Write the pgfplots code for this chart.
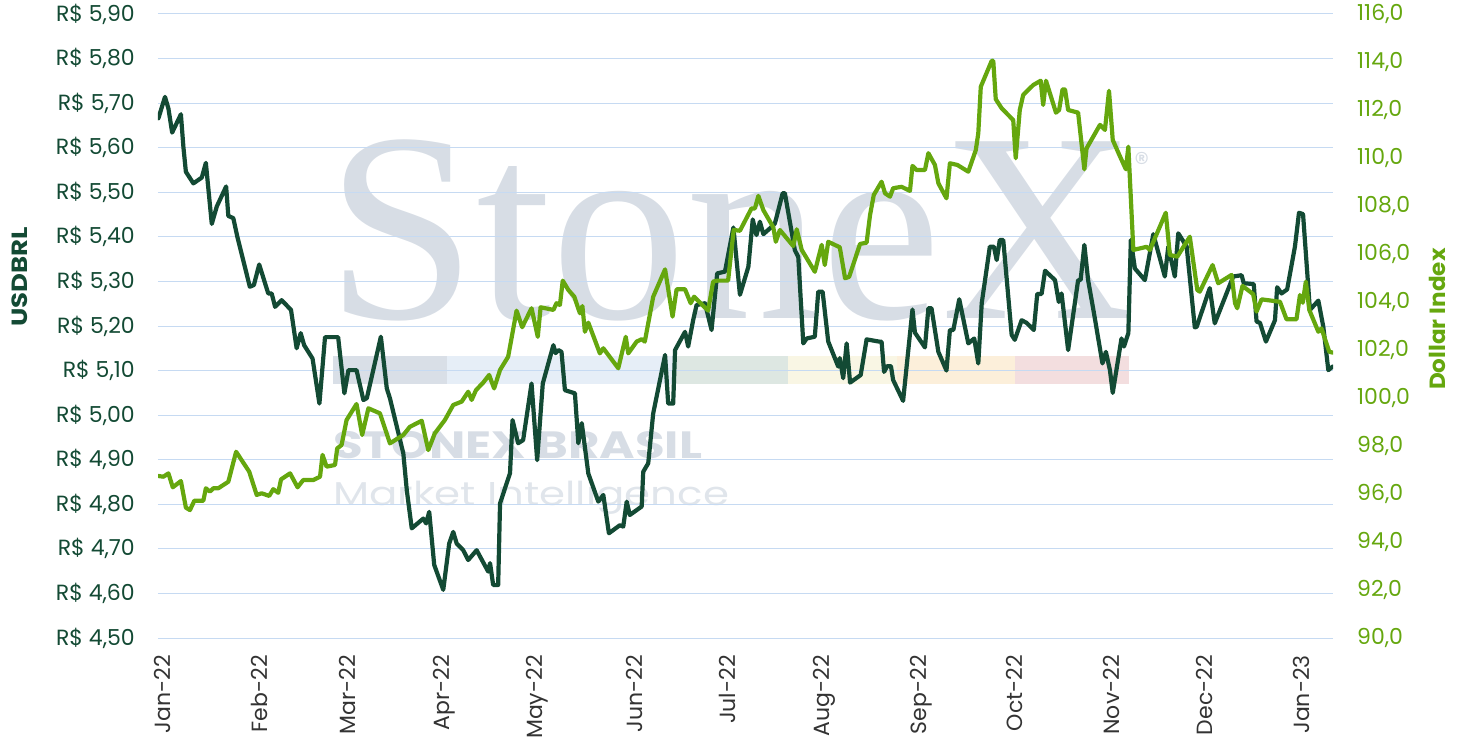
\documentclass[border=0pt]{standalone}
\usepackage{pgfplots}
\pgfplotsset{compat=1.18}
\usepackage{pgfplotstable}
\usepackage{fontspec}
\setmainfont{Poppins}
\newfontfamily\wmserif{Liberation Serif}
\definecolor{dkgreen}{HTML}{134A34}
\definecolor{ltgreen}{HTML}{65A70E}
\definecolor{gridblue}{HTML}{C6DAF2}
\definecolor{wm}{HTML}{D7DDE5}
\definecolor{wmlight}{HTML}{E0E5EB}
\definecolor{bandA}{HTML}{D9DFE7}
\definecolor{bandB}{HTML}{E6EEF7}
\definecolor{bandC}{HTML}{DDE7E2}
\definecolor{bandD}{HTML}{F9F6E4}
\definecolor{bandE}{HTML}{FCEFDA}
\definecolor{bandF}{HTML}{F3DEDF}
\definecolor{ticktext}{HTML}{333333}

% days since 1 Jan 2022, USDBRL
\pgfplotstableread{
d v
-0.5 5.666
1.6 5.714
2.7 5.688
3.9 5.634
6.7 5.675
7.5 5.602
8.3 5.546
10.7 5.520
13.4 5.533
14.7 5.566
16.6 5.429
18.2 5.468
21.2 5.513
21.9 5.447
23.5 5.442
24.8 5.400
28.8 5.288
30.1 5.292
31.8 5.338
34.7 5.273
35.8 5.273
36.9 5.243
39.0 5.258
42.0 5.236
43.8 5.150
45.1 5.184
46.2 5.157
48.9 5.127
51.1 5.026
52.9 5.175
57.1 5.175
59.1 5.049
60.4 5.101
63.0 5.101
65.2 5.034
66.3 5.038
70.8 5.176
72.7 5.060
73.7 5.038
78.0 4.914
79.1 4.832
80.7 4.746
84.4 4.768
85.3 4.757
86.3 4.783
87.9 4.664
90.8 4.608
92.7 4.712
94.0 4.738
95.1 4.712
97.2 4.697
98.8 4.675
101.5 4.697
105.2 4.649
105.8 4.668
106.8 4.619
108.4 4.619
109.0 4.802
112.2 4.870
113.0 4.989
114.8 4.937
116.4 4.944
119.1 5.071
120.9 4.899
122.7 5.071
126.1 5.157
126.8 5.139
127.7 5.146
128.7 5.142
129.8 5.056
133.0 5.049
134.1 4.937
135.2 4.982
137.3 4.869
140.5 4.806
142.1 4.821
143.9 4.735
147.4 4.753
148.5 4.750
149.6 4.806
150.6 4.776
153.6 4.791
154.4 4.795
154.9 4.873
156.5 4.892
158.1 5.004
161.9 5.135
162.9 5.026
164.5 5.026
165.1 5.146
168.3 5.187
169.3 5.154
170.9 5.213
172.0 5.247
174.7 5.251
176.8 5.191
178.6 5.318
181.1 5.322
183.8 5.421
185.9 5.270
188.6 5.333
190.0 5.439
191.2 5.404
192.3 5.434
193.4 5.406
195.5 5.419
197.1 5.430
199.6 5.498
200.3 5.498
203.5 5.370
204.6 5.355
206.2 5.161
207.3 5.172
209.9 5.176
211.0 5.277
212.4 5.277
214.2 5.165
217.4 5.109
217.9 5.128
219.0 5.083
220.1 5.161
221.2 5.073
224.6 5.090
226.5 5.170
230.5 5.165
231.3 5.165
232.1 5.097
233.1 5.110
234.3 5.110
235.0 5.079
238.2 5.032
241.2 5.237
242.0 5.185
245.2 5.152
246.3 5.240
247.3 5.240
249.5 5.142
252.1 5.100
253.2 5.191
254.3 5.191
256.2 5.260
259.1 5.161
261.0 5.172
262.3 5.116
263.4 5.251
266.0 5.378
267.3 5.378
268.2 5.348
269.2 5.393
270.3 5.393
273.0 5.180
274.0 5.169
276.2 5.213
277.8 5.207
280.1 5.191
281.2 5.272
282.6 5.272
283.7 5.324
286.9 5.303
288.1 5.254
289.0 5.273
291.1 5.146
294.3 5.303
295.1 5.303
296.3 5.382
297.5 5.303
299.4 5.228
302.1 5.116
303.2 5.142
304.5 5.101
305.4 5.050
308.2 5.172
309.0 5.154
310.4 5.184
311.2 5.393
312.5 5.329
315.7 5.303
318.4 5.406
322.1 5.311
323.2 5.378
325.3 5.311
326.4 5.408
329.1 5.378
331.7 5.197
332.3 5.198
336.5 5.285
338.1 5.206
344.0 5.311
346.7 5.314
347.4 5.296
350.6 5.294
351.5 5.210
352.6 5.207
354.5 5.165
357.4 5.213
358.1 5.287
359.5 5.273
361.3 5.282
363.8 5.378
365.1 5.454
366.4 5.451
368.6 5.236
371.3 5.257
372.9 5.198
374.5 5.101
375.9 5.109
}\usdbrl

% days since 1 Jan 2022, Dollar Index
\pgfplotstableread{
d w
-0.5 96.75
1.1 96.72
2.7 96.86
4.1 96.28
6.7 96.54
8.3 95.43
9.6 95.33
11.0 95.72
13.9 95.72
14.7 96.24
16.0 96.10
17.1 96.24
18.7 96.24
21.9 96.51
24.4 97.76
28.6 96.93
31.0 95.96
32.6 96.03
35.0 95.92
36.3 96.20
37.9 96.05
38.8 96.61
41.7 96.86
44.1 96.28
45.9 96.58
49.1 96.58
51.3 96.72
52.1 97.63
53.4 97.14
56.1 97.21
56.8 97.90
58.2 98.04
59.8 99.08
63.0 99.75
64.8 98.46
66.8 99.57
70.5 99.36
73.7 98.11
78.0 98.46
80.1 98.80
83.9 99.05
86.0 97.83
88.1 98.53
91.3 99.08
94.0 99.71
96.7 99.85
98.8 100.26
99.9 99.92
101.3 100.33
103.6 100.64
105.5 100.96
107.1 100.40
109.0 101.17
111.6 101.72
114.3 103.64
116.1 102.95
119.1 103.74
121.1 102.55
122.0 103.78
126.1 103.67
127.1 103.95
128.2 103.88
129.1 104.89
130.9 104.50
132.8 104.22
134.6 103.53
135.4 103.83
136.2 102.76
137.3 103.14
141.0 101.86
142.1 102.07
146.9 101.24
149.3 102.55
150.1 101.86
152.8 102.35
154.4 102.45
155.4 102.35
158.1 104.22
161.9 105.36
164.3 103.39
165.6 104.53
168.3 104.53
170.1 103.95
171.2 104.22
175.7 103.64
177.3 104.85
178.6 104.89
182.1 104.89
183.9 107.00
185.9 106.97
189.6 107.90
190.7 107.90
191.8 108.42
193.4 107.83
196.6 107.11
197.4 106.51
198.7 107.00
203.0 106.33
204.1 107.03
205.7 106.17
209.9 105.26
212.1 106.38
213.1 105.54
214.2 106.51
217.9 106.28
219.6 104.99
220.9 105.05
224.4 106.42
226.5 106.47
227.6 107.62
228.8 108.46
231.3 109.01
232.4 108.53
234.0 108.39
235.0 108.74
237.7 108.80
240.4 108.63
241.2 109.67
242.5 109.50
245.2 109.50
246.3 110.20
248.4 109.71
249.5 108.95
252.1 108.32
253.2 109.78
255.6 109.71
259.1 109.43
261.5 110.33
262.3 111.03
263.1 112.97
266.6 114.05
267.1 114.05
267.9 112.45
269.8 112.07
273.5 111.58
274.3 109.99
275.6 112.00
276.7 112.63
279.9 113.04
282.3 113.22
283.1 112.21
284.0 113.22
287.2 111.89
288.2 112.00
289.3 112.86
290.1 112.86
291.1 112.00
294.3 111.89
296.3 109.53
297.0 110.40
301.3 111.38
302.9 111.17
304.2 112.80
305.4 110.75
307.5 110.13
309.6 109.53
310.4 110.47
312.0 106.17
316.3 106.30
317.3 106.17
322.4 107.72
323.7 105.96
326.1 105.89
330.1 106.72
332.5 104.50
333.3 104.43
337.4 105.54
339.2 104.78
343.5 105.13
344.6 103.95
345.3 103.74
347.0 104.67
350.4 104.33
351.5 103.60
353.1 104.11
359.0 104.01
361.1 103.28
364.3 103.28
365.4 104.29
366.3 103.97
367.3 104.85
368.4 103.67
371.3 102.76
372.3 102.90
374.8 101.93
375.9 101.89
}\dxy

\begin{document}
\begin{tikzpicture}
\useasboundingbox (-158pt,-102pt) rectangle (1303pt,638pt);
% watermark
\fill[bandA] (175pt,254pt) rectangle (289pt,282pt);
\fill[bandB] (289pt,254pt) rectangle (517pt,282pt);
\fill[bandC] (517pt,254pt) rectangle (630pt,282pt);
\fill[bandD] (630pt,254pt) rectangle (739pt,282pt);
\fill[bandE] (739pt,254pt) rectangle (857pt,282pt);
\fill[bandF] (857pt,254pt) rectangle (971pt,282pt);
\node[anchor=base west, inner sep=0pt, text=wm, font=\wmserif\fontsize{270}{270}\selectfont] at (168pt,320pt) {StoneX};
\node[anchor=center, inner sep=0pt, text=wm, font=\fontsize{30}{30}\selectfont] at (984pt,475pt) {\textregistered};
\node[anchor=base west, inner sep=0pt, text=wm, font=\bfseries\fontsize{38}{38}\selectfont] at (175pt,180pt) {\scalebox{1.27}[1]{STONEX BRASIL}};
\node[anchor=base west, inner sep=0pt, text=wmlight, font=\fontsize{33}{33}\selectfont] at (175pt,133pt) {\scalebox{1.27}[1]{Market Intelligence}};

\begin{axis}[
  at={(0pt,0pt)}, anchor=south west,
  scale only axis, width=1175pt, height=624pt,
  xmin=-0.64, xmax=376,
  ymin=4.5, ymax=5.9,
  axis y line*=left, axis x line*=bottom,
  axis line style={draw=none},
  major tick length=0pt,
  ytick={4.5,4.6,4.7,4.8,4.9,5.0,5.1,5.2,5.3,5.4,5.5,5.6,5.7,5.8,5.9},
  ymajorgrids, grid style={gridblue, line width=1pt},
  /pgf/number format/assume math mode=true,
  yticklabel={R\$ \pgfmathprintnumber[fixed,fixed zerofill,precision=2,use comma]{\tick}},
  yticklabel style={text=dkgreen, font=\fontsize{22}{26}\selectfont, inner sep=0pt, anchor=east, xshift=-23pt},
  xtick={0,31,59,90,120,151,181,212,243,273,304,334,365},
  xticklabels={Jan-22,Feb-22,Mar-22,Apr-22,May-22,Jun-22,Jul-22,Aug-22,Sep-22,Oct-22,Nov-22,Dec-22,Jan-23},
  xticklabel style={rotate=90, anchor=east, inner sep=0pt, xshift=-17pt, yshift=-3pt, text=ticktext, font=\fontsize{22}{26}\selectfont},
  ylabel={\scalebox{1.18}[1]{USDBRL}},
  ylabel style={at={(axis description cs:-0.1178,0.579)}, anchor=center, rotate=0, text=dkgreen, font=\bfseries\fontsize{22}{26}\selectfont},
]
\addplot[dkgreen, line width=4.2pt, line join=round, line cap=round] table[x=d, y=v] {\usdbrl};
\end{axis}

\begin{axis}[
  at={(0pt,0pt)}, anchor=south west,
  scale only axis, width=1175pt, height=624pt,
  xmin=-0.64, xmax=376,
  ymin=90, ymax=116,
  axis y line*=right, axis x line=none,
  axis line style={draw=none},
  major tick length=0pt,
  ytick={90,92,94,96,98,100,102,104,106,108,110,112,114,116},
  /pgf/number format/assume math mode=true,
  yticklabel={\pgfmathprintnumber[fixed,fixed zerofill,precision=1,use comma]{\tick}},
  yticklabel style={text=ltgreen, font=\fontsize{22}{26}\selectfont, inner sep=0pt, anchor=west, xshift=24pt},
  ylabel={\scalebox{1.05}[1]{Dollar Index}},
  ylabel style={at={(axis description cs:1.0885,0.511)}, anchor=center, rotate=0, text=ltgreen, font=\bfseries\fontsize{22}{26}\selectfont},
]
\addplot[ltgreen, line width=4.2pt, line join=round, line cap=round] table[x=d, y=w] {\dxy};
\end{axis}
\end{tikzpicture}
\end{document}
